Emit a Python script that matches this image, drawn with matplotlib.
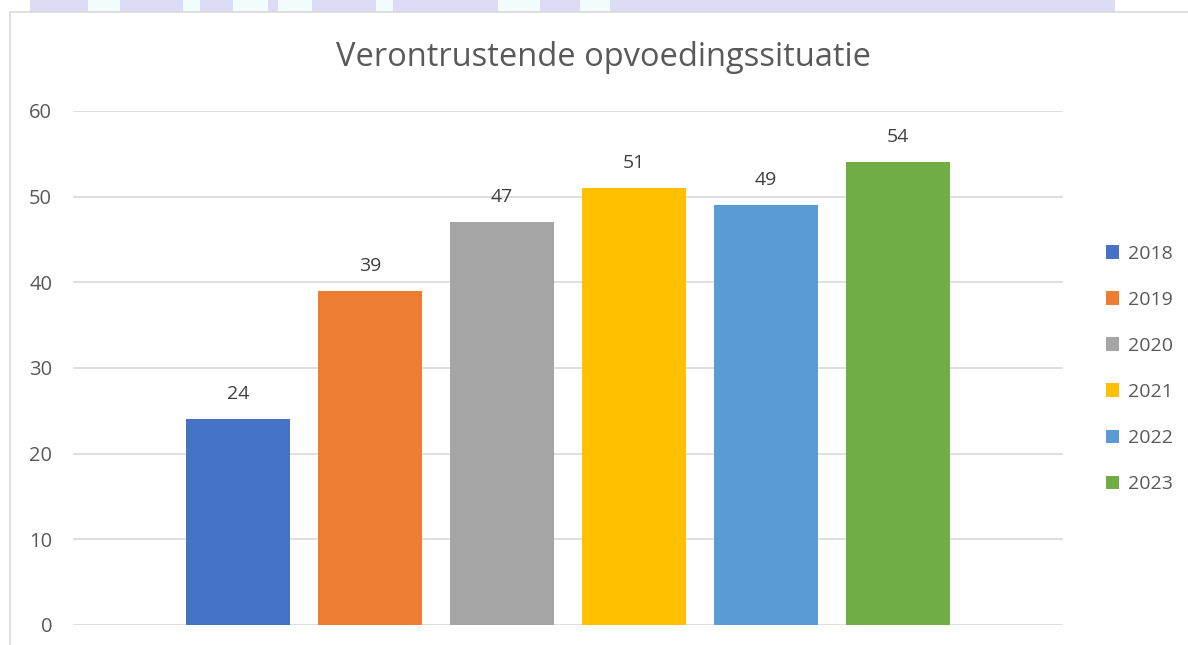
import matplotlib
matplotlib.use("Agg")
import matplotlib.pyplot as plt
from matplotlib.patches import Rectangle

title = "Verontrustende opvoedingssituatie"
years = ["2018", "2019", "2020", "2021", "2022", "2023"]
values = [24, 39, 47, 51, 49, 54]
colors = ["#4472C4", "#ED7D31", "#A5A5A5", "#FFC000", "#5B9BD5", "#70AD47"]
yticks = [0, 10, 20, 30, 40, 50, 60]

W, H = 1188, 645
fig = plt.figure(figsize=(W / 100, H / 100), dpi=100)
fig.patch.set_facecolor("white")

# watermark fragment band at top
fig.patches.append(Rectangle((30 / W, 1 - 12 / H), (1115 - 30) / W, 12 / H,
                             transform=fig.transFigure, facecolor="#DCDCF6",
                             edgecolor="none", zorder=0))
for x0, x1 in [(88, 120), (183, 200), (233, 268), (278, 312), (376, 393), (498, 540), (580, 610)]:
    fig.patches.append(Rectangle((x0 / W, 1 - 12 / H), (x1 - x0) / W, 12 / H,
                                 transform=fig.transFigure, facecolor="#F2FCFC",
                                 edgecolor="none", zorder=0))
# chart border
fig.patches.append(Rectangle((10 / W, -0.1), 1.2, 1 - 12 / H + 0.1,
                             transform=fig.transFigure, facecolor="none",
                             edgecolor="#D9D9D9", linewidth=1.2, zorder=1))

left, right = 73 / W, 1063 / W
bottom, top = 1 - 625 / H, 1 - 111 / H
ax = fig.add_axes([left, bottom, right - left, top - bottom])
ax.set_facecolor("none")

n = len(values)
positions = [i - (n - 1) / 2 for i in range(n)]
bars = ax.bar(positions, values, width=0.795, color=colors, label=years, zorder=3)
ax.set_xlim(-3.75, 3.75)
ax.set_ylim(0, 60)
ax.set_yticks(yticks)
ax.set_yticklabels([str(t) for t in yticks])
ax.set_xticks([])
ax.grid(axis="y", color="#D9D9D9", linewidth=1.2, zorder=0)
for s in ax.spines.values():
    s.set_visible(False)
ax.tick_params(axis="y", length=0, pad=15, labelsize=14.5, labelcolor="#595959")
for lbl in ax.get_yticklabels():
    lbl.set_fontfamily("Open Sans")

for p, v in zip(positions, values):
    ax.annotate(str(v), (p, v), xytext=(0, 11.5), textcoords="offset points",
                ha="center", va="bottom", fontsize=14, color="#404040",
                family="Open Sans")

fig.text(603 / W, 1 - 57 / H, title, ha="center", va="center",
         fontsize=23.5, color="#595959", family="Open Sans")

handles = [Rectangle((0, 0), 1, 1, facecolor=c) for c in colors]
leg = fig.legend(handles, years, loc="center left",
                 bbox_to_anchor=(1088 / W, 1 - 369 / H), frameon=False,
                 handlelength=0.7, handleheight=0.7, handletextpad=0.45,
                 labelspacing=1.45, prop={"family": "Open Sans", "size": 14})
for t in leg.get_texts():
    t.set_color("#595959")

fig.savefig("out.png", dpi=100)
